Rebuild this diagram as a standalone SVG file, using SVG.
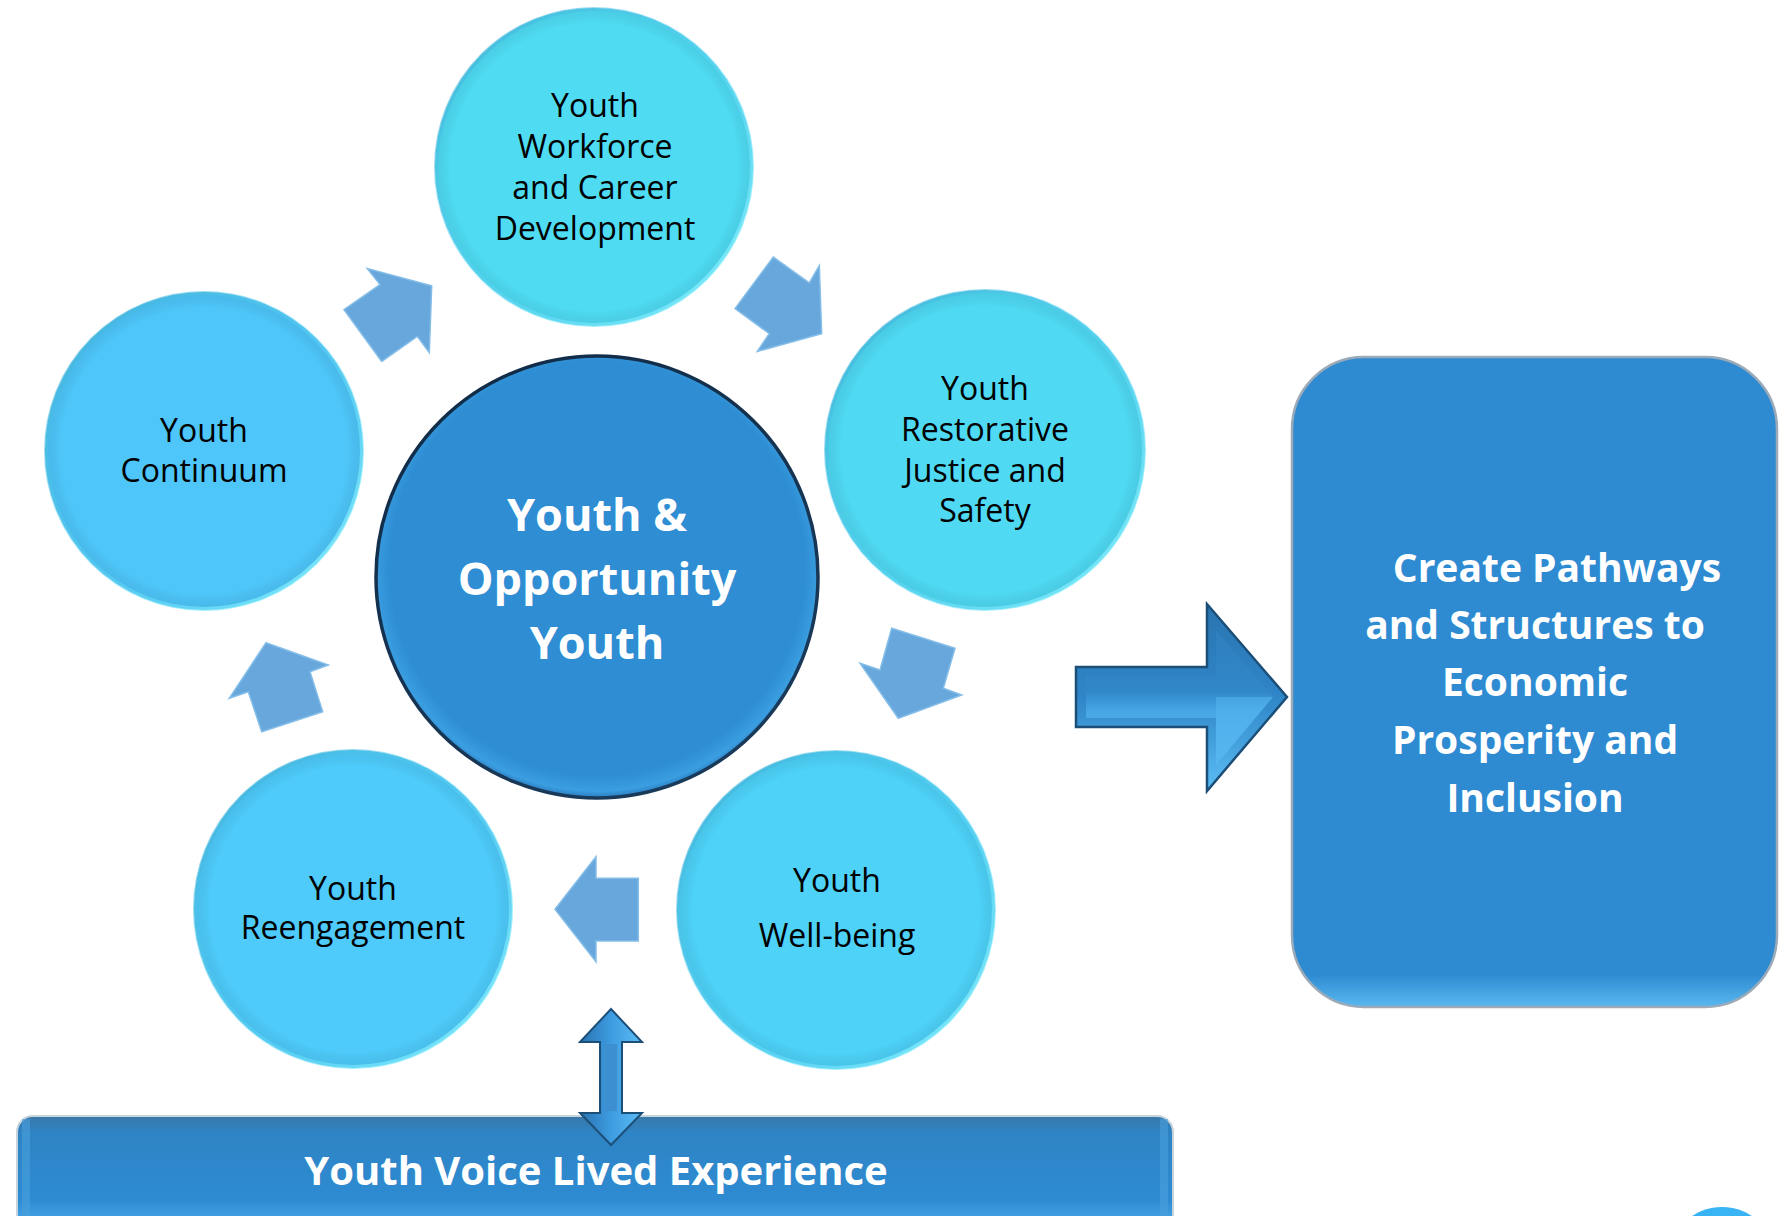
<svg xmlns="http://www.w3.org/2000/svg" width="1780" height="1216" viewBox="0 0 1780 1216">
<defs>
<style>
.lbl{font-family:"Open Sans","Noto Sans","Liberation Sans",sans-serif;fill:#000;text-anchor:middle;font-size:32px}
.wht{font-family:"Open Sans","Noto Sans","Liberation Sans",sans-serif;fill:#fff;text-anchor:middle;font-weight:bold}
.small{fill:#67a7dc;stroke:#84bde8;stroke-width:1.5;stroke-linejoin:miter}
.ring{fill:none;stroke:url(#rim);stroke-width:4}
</style>
<linearGradient id="rim" x1="0" y1="0" x2="1" y2="1">
<stop offset="0" stop-color="#3aa8d0" stop-opacity="0.7"/>
<stop offset="0.5" stop-color="#60d8f8" stop-opacity="0.4"/>
<stop offset="1" stop-color="#8ff6ff" stop-opacity="0.9"/>
</linearGradient>
<radialGradient id="cshade" cx="0.5" cy="0.5" r="0.5">
<stop offset="0.9" stop-color="#000" stop-opacity="0"/>
<stop offset="1" stop-color="#1a5f80" stop-opacity="0.12"/>
</radialGradient>
<radialGradient id="centerG" cx="0.5" cy="0.48" r="0.52">
<stop offset="0.9" stop-color="#2e8dd3"/>
<stop offset="0.97" stop-color="#3a9ee0"/>
<stop offset="1" stop-color="#2a7cc0"/>
</radialGradient>
<linearGradient id="centerRim" x1="0" y1="0" x2="0.6" y2="1">
<stop offset="0" stop-color="#0f2a45"/>
<stop offset="1" stop-color="#1a3a5a"/>
</linearGradient>
<linearGradient id="arrOuter" x1="0" y1="0" x2="0" y2="1">
<stop offset="0" stop-color="#2a74b0"/>
<stop offset="0.5" stop-color="#2f86c8"/>
<stop offset="1" stop-color="#5cbdf4"/>
</linearGradient>
<linearGradient id="arrInner" x1="0" y1="0" x2="0" y2="1">
<stop offset="0" stop-color="#2f7fbe"/>
<stop offset="0.45" stop-color="#3087c8"/>
<stop offset="0.6" stop-color="#47a6e6"/>
<stop offset="1" stop-color="#55b6f0"/>
</linearGradient>
<linearGradient id="arrV" x1="0" y1="0" x2="1" y2="0">
<stop offset="0" stop-color="#2a74b0"/>
<stop offset="0.5" stop-color="#3d9be0"/>
<stop offset="1" stop-color="#5cbdf4"/>
</linearGradient>
<linearGradient id="barG" x1="0" y1="0" x2="0" y2="1">
<stop offset="0" stop-color="#3a78a8"/>
<stop offset="0.12" stop-color="#2e84c4"/>
<stop offset="0.6" stop-color="#2e8bd2"/>
<stop offset="0.78" stop-color="#4aa8e8"/>
<stop offset="1" stop-color="#66c4f8"/>
</linearGradient>
<linearGradient id="boxG" x1="0" y1="0" x2="0" y2="1">
<stop offset="0" stop-color="#2e8bd2"/>
<stop offset="0.95" stop-color="#2e8bd2"/>
<stop offset="1" stop-color="#5ab8f0"/>
</linearGradient>
</defs>
<rect width="1780" height="1216" fill="#fff"/>

<g id="connectors">
<polygon class="small" points="344,309.6 380,284.6 367.3,268.6 431.7,285.7 429.3,352.5 417.3,336.4 381.7,361.4"/>
<polygon class="small" points="735,308.6 773.3,257.1 809.3,282.9 819.3,265.7 821.7,333.6 757.3,351.4 769.3,333.6"/>
<polygon class="small" points="891.7,628.3 955,648.3 943.3,688.3 961.7,695 898.3,718.3 860,663.3 880,670"/>
<polygon class="small" points="555,909.3 596,856.7 596,878.3 638.3,878.3 638.3,941 596,941 596,961.7"/>
<polygon class="small" points="266,642.7 328.3,665 310,671.7 322.7,711.7 261.7,731.7 248.3,691.7 229.3,698.3"/>
<g id="bigArrow">
<polygon points="1076,667 1207,667 1207,604 1287,697 1207,791 1207,727 1076,727" fill="url(#arrOuter)" stroke="#1c4f78" stroke-width="2.5" stroke-linejoin="miter"/>
<polygon points="1086,676 1216,676 1216,630 1273,697 1216,765 1216,718 1086,718" fill="url(#arrInner)"/>
<polygon points="1216,697 1273,697 1216,765" fill="#56b8f0" opacity="0.5"/>
</g>
</g>

<g id="node-voice">
<rect x="17" y="1116" width="1156" height="140" rx="16" fill="url(#barG)" stroke="#c8d4dc" stroke-width="2"/>
<rect x="22" y="1119" width="8" height="110" fill="#4aa0dc" opacity="0.6"/>
<rect x="1160" y="1119" width="8" height="110" fill="#4aa0dc" opacity="0.6"/>
<text class="wht" x="596" y="1185" font-size="40">Youth Voice Lived Experience</text>
</g>

<g id="doubleArrow">
<polygon points="611,1009 642,1042 622,1042 622,1113 642,1113 611,1145 580,1113 600,1113 600,1042 580,1042" fill="url(#arrV)" stroke="#1c4f78" stroke-width="2" stroke-linejoin="miter"/>
<rect x="605" y="1044" width="12" height="67" fill="#3c8fd0"/>
</g>

<g id="node-workforce">
<circle cx="594" cy="167" r="159" fill="#4fdcf3"/>
<circle cx="594" cy="167" r="159" fill="url(#cshade)"/>
<circle cx="594" cy="167" r="158" class="ring"/>
<text class="lbl" x="595" y="117">Youth</text>
<text class="lbl" x="595" y="158">Workforce</text>
<text class="lbl" x="595" y="199">and Career</text>
<text class="lbl" x="595" y="240">Development</text>
</g>

<g id="node-restorative">
<circle cx="985" cy="450" r="160" fill="#4fd9f2"/>
<circle cx="985" cy="450" r="160" fill="url(#cshade)"/>
<circle cx="985" cy="450" r="159" class="ring"/>
<text class="lbl" x="985" y="400">Youth</text>
<text class="lbl" x="985" y="441">Restorative</text>
<text class="lbl" x="985" y="482">Justice and</text>
<text class="lbl" x="985" y="522">Safety</text>
</g>

<g id="node-continuum">
<circle cx="204" cy="451" r="159" fill="#4ec6f9"/>
<circle cx="204" cy="451" r="159" fill="url(#cshade)"/>
<circle cx="204" cy="451" r="158" class="ring"/>
<text class="lbl" x="204" y="442">Youth</text>
<text class="lbl" x="204" y="482">Continuum</text>
</g>

<g id="node-reengagement">
<circle cx="353" cy="909" r="159" fill="#4ecbfa"/>
<circle cx="353" cy="909" r="159" fill="url(#cshade)"/>
<circle cx="353" cy="909" r="158" class="ring"/>
<text class="lbl" x="353" y="900" font-size="28">Youth</text>
<text class="lbl" x="353" y="939" font-size="28">Reengagement</text>
</g>

<g id="node-wellbeing">
<circle cx="836" cy="910" r="159" fill="#4ed2f8"/>
<circle cx="836" cy="910" r="159" fill="url(#cshade)"/>
<circle cx="836" cy="910" r="158" class="ring"/>
<text class="lbl" x="837" y="892">Youth</text>
<text class="lbl" x="837" y="947">Well-being</text>
</g>

<g id="node-center">
<circle cx="597" cy="577" r="221" fill="url(#centerG)" stroke="url(#centerRim)" stroke-width="3.5"/>
<text class="wht" x="597" y="531" font-size="45">Youth &amp;</text>
<text class="wht" x="597" y="595" font-size="45">Opportunity</text>
<text class="wht" x="597" y="659" font-size="45">Youth</text>
</g>

<g id="node-outcome">
<rect x="1292" y="357" width="485" height="650" rx="72" fill="url(#boxG)" stroke="#9aaab8" stroke-width="2.5"/>
<text class="wht" x="1557" y="582" font-size="39">Create Pathways</text>
<text class="wht" x="1535" y="639" font-size="39">and Structures to</text>
<text class="wht" x="1535" y="696" font-size="39">Economic</text>
<text class="wht" x="1535" y="754" font-size="39">Prosperity and</text>
<text class="wht" x="1535" y="812" font-size="39">Inclusion</text>
</g>

<circle id="corner-circle" cx="1722" cy="1261" r="54" fill="#38b4f5"/>
</svg>
